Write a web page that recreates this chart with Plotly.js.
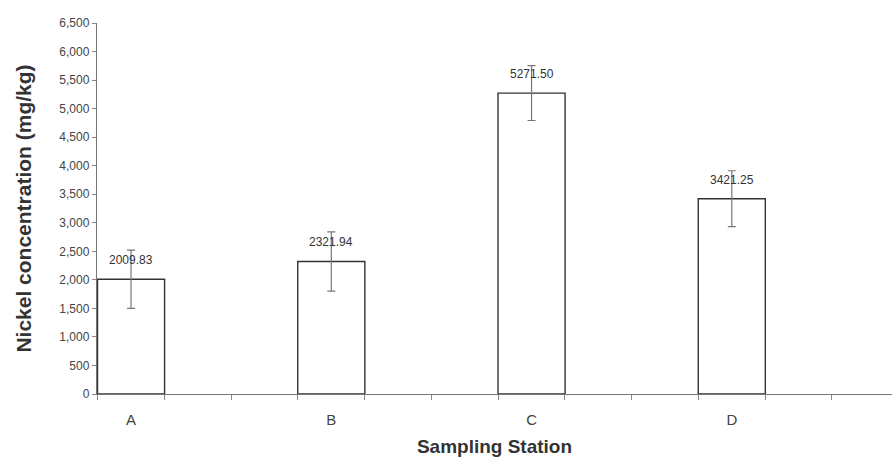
<!DOCTYPE html>
<html>
<head>
<meta charset="utf-8">
<script src="https://cdn.plot.ly/plotly-3.0.1.min.js"></script>
<style>html,body{margin:0;padding:0;background:#fff;}#chart{width:892px;height:460px;}</style>
</head>
<body>
<div id="chart"></div>
<script>
const categories = ['A', 'B', 'C', 'D'];
const concentration = [2009.83, 2321.94, 5271.50, 3421.25];
const errors = [510, 520, 480, 490];
const valueLabels = ['2009.83', '2321.94', '5271.50', '3421.25'];
const yTickVals = [0, 500, 1000, 1500, 2000, 2500, 3000, 3500, 4000, 4500, 5000, 5500, 6000, 6500];

const xPos = categories.map((c, i) => i);

const trace = {
  type: 'bar',
  x: xPos,
  y: concentration,
  width: 0.335,
  marker: {color: '#ffffff', line: {color: '#333333', width: 1.4}},
  error_y: {type: 'data', array: errors, visible: true, color: '#777777', thickness: 1.2, width: 4},
  hoverinfo: 'skip'
};

const annotations = xPos.map((x, i) => ({
  x: x, y: concentration[i], text: valueLabels[i], showarrow: false,
  yshift: 19, font: {family: 'Liberation Sans, Arial, sans-serif', size: 12, color: '#333'}
}));

const layout = {
  width: 892, height: 460,
  margin: {l: 97, r: 0, t: 23, b: 66},
  paper_bgcolor: '#fff', plot_bgcolor: '#fff',
  showlegend: false,
  font: {family: 'Liberation Sans, Arial, sans-serif', color: '#444'},
  xaxis: {
    range: [-0.17, 3.8],
    tickvals: xPos, ticktext: categories,
    ticks: 'outside', ticklen: 12, tickcolor: 'rgba(0,0,0,0)',
    tickfont: {size: 15, color: '#444'},
    showline: true, linecolor: '#777', linewidth: 1.2,
    showgrid: false, zeroline: false,
    minor: {tick0: -1/6, dtick: 1/3, ticks: 'outside', ticklen: 5, tickcolor: '#888', showgrid: false},
    title: {text: '<b>Sampling Station</b>', font: {size: 19, color: '#333'}, standoff: 12}
  },
  yaxis: {
    range: [0, 6500],
    tickvals: yTickVals, tickformat: ',d',
    ticks: 'outside', ticklen: 4, tickcolor: '#888',
    tickfont: {size: 12, color: '#444'},
    showline: true, linecolor: '#777', linewidth: 1.2,
    showgrid: false, zeroline: false,
    title: {text: '<b>Nickel concentration (mg/kg)</b>', font: {size: 21, color: '#333'}, standoff: 22}
  },
  annotations: annotations
};

Plotly.newPlot('chart', [trace], layout, {displayModeBar: false, staticPlot: true});
</script>
</body>
</html>
